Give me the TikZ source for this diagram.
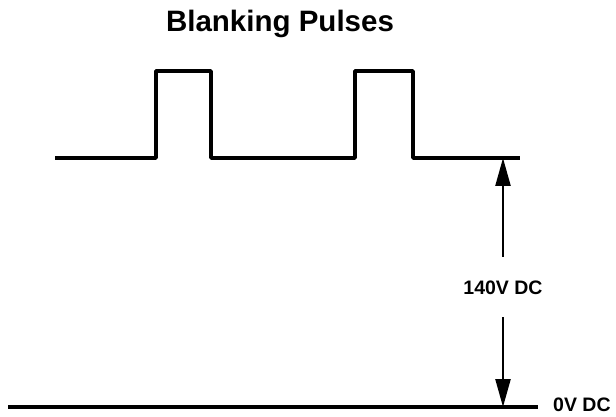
\documentclass[tikz,border=0pt]{standalone}
\usepackage{fontspec}
\setmainfont{Liberation Sans}
\usetikzlibrary{arrows.meta}

\begin{document}
\begin{tikzpicture}[x=1pt, y=-1pt]

    \tikzset{
        signal/.style={
            line width=3.4pt,
            line join=round
        },
        measure/.style={
            line width=2.4pt,
            -{Triangle[length=28pt, width=15pt]}
        },
        label/.style={
            font=\bfseries\fontsize{19.5}{20}\selectfont,
            inner sep=0pt
        }
    }

    \useasboundingbox (0,0) rectangle (616,417);

    % body
    \coordinate (start) at (55,158);
    \coordinate (p1a)   at (156,158);
    \coordinate (p1b)   at (211,158);
    \coordinate (p2a)   at (355,158);
    \coordinate (p2b)   at (413,158);
    \coordinate (stop)  at (520,158);
    \coordinate (top)   at (503,158);
    \coordinate (gnda)  at (8,407);
    \coordinate (gndb)  at (538,407);
    \coordinate (bot)   at (503,407);

    % nadpis
    \node[font=\bfseries\fontsize{29.5}{30}\selectfont, inner sep=0pt, anchor=base]
        (title) at (280,32) {Blanking Pulses};

    % pulsy
    \draw[signal]
        (start) -- (p1a) -- ++(0,-87) -- ++(55,0) -- (p1b)
        -- (p2a) -- ++(0,-87) -- ++(58,0) -- (p2b) -- (stop);

    % nulova uroven
    \draw[signal] (gnda) -- (gndb);

    % popisky
    \node[label, text height=14pt, text depth=0pt, inner ysep=23pt]
        (volt) at (503,287) {140V DC};
    \node[label, anchor=base west] (zero) at (553,411) {0V DC};

    % sipky
    \draw[measure] (volt.north) -- (top);
    \draw[measure] (volt.south) -- (bot);

\end{tikzpicture}
\end{document}
